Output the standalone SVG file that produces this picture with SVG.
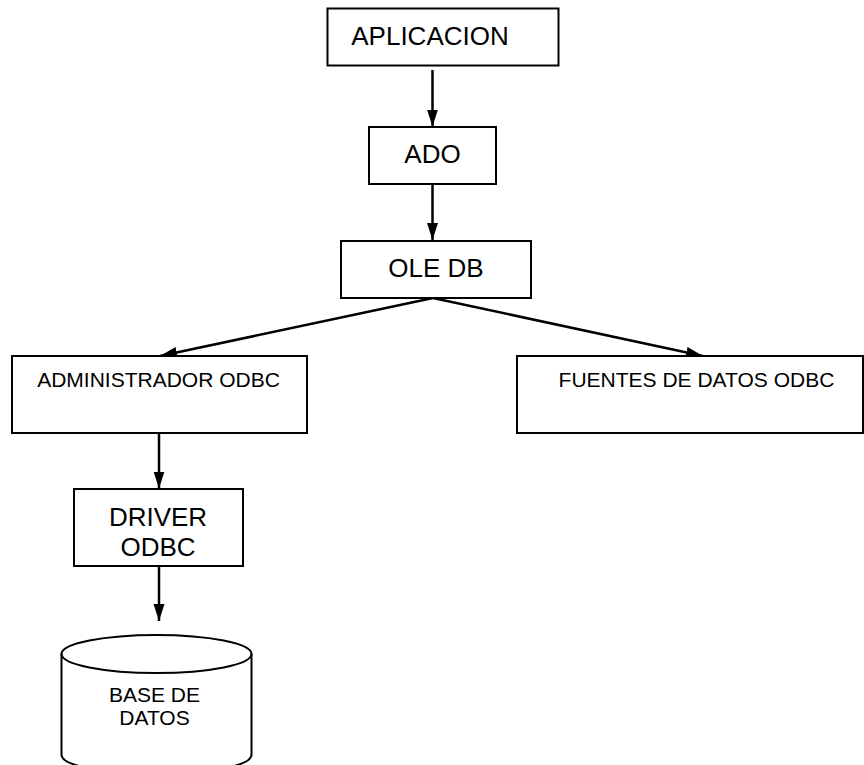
<svg xmlns="http://www.w3.org/2000/svg" width="864" height="765" viewBox="0 0 864 765">
  <style>
    .box { fill: #ffffff; stroke: #000000; stroke-width: 2; }
    .lbl { font-family: "Liberation Sans", Arial, sans-serif; fill: #000000; text-anchor: middle; }
    .big { font-size: 26px; }
    .small { font-size: 21px; }
    .edge { stroke: #000000; stroke-width: 2.5; fill: none; marker-end: url(#arrow); }
  </style>
  <defs>
    <marker id="arrow" markerUnits="userSpaceOnUse" markerWidth="18" markerHeight="12" refX="17" refY="6" orient="auto">
      <path d="M0,0.5 L17,6 L0,11.5 Z" fill="#000000"/>
    </marker>
  </defs>
  <rect width="864" height="765" fill="#ffffff"/>

  <g id="connectors">
    <line class="edge" x1="432.5" y1="70" x2="432.5" y2="126.5"/>
    <line class="edge" x1="432.5" y1="184" x2="432.5" y2="240"/>
    <line class="edge" x1="433" y1="298" x2="160" y2="356"/>
    <line class="edge" x1="433" y1="298" x2="703" y2="356"/>
    <line class="edge" x1="159" y1="433" x2="159" y2="488.5"/>
    <line class="edge" x1="159" y1="566" x2="159" y2="621"/>
  </g>

  <g id="aplicacion">
    <rect class="box" x="327.5" y="8.5" width="231" height="57"/>
    <text class="lbl big" x="430" y="45">APLICACION</text>
  </g>

  <g id="ado">
    <rect class="box" x="369" y="127" width="127" height="57"/>
    <text class="lbl big" x="432.5" y="163">ADO</text>
  </g>

  <g id="oledb">
    <rect class="box" x="341" y="241" width="190" height="57"/>
    <text class="lbl big" x="436" y="277">OLE DB</text>
  </g>

  <g id="administrador-odbc">
    <rect class="box" x="12" y="356" width="295" height="77"/>
    <text class="lbl small" x="158.5" y="387">ADMINISTRADOR ODBC</text>
  </g>

  <g id="fuentes-datos-odbc">
    <rect class="box" x="517" y="356" width="346" height="77"/>
    <text class="lbl small" x="696.5" y="387">FUENTES DE DATOS ODBC</text>
  </g>

  <g id="driver-odbc">
    <rect class="box" x="74" y="489" width="169" height="77"/>
    <text class="lbl big" x="158" y="526">DRIVER</text>
    <text class="lbl big" x="158" y="556">ODBC</text>
  </g>

  <g id="base-de-datos">
    <path class="box" d="M61.5,654 L61.5,755 A95,19 0 0 0 251.5,755 L251.5,654 A95,19 0 0 0 61.5,654 Z"/>
    <path class="box" d="M61.5,654 A95,19 0 0 0 251.5,654" style="fill:none"/>
    <text class="lbl small" x="154.5" y="702">BASE DE</text>
    <text class="lbl small" x="154.5" y="725">DATOS</text>
  </g>
</svg>
